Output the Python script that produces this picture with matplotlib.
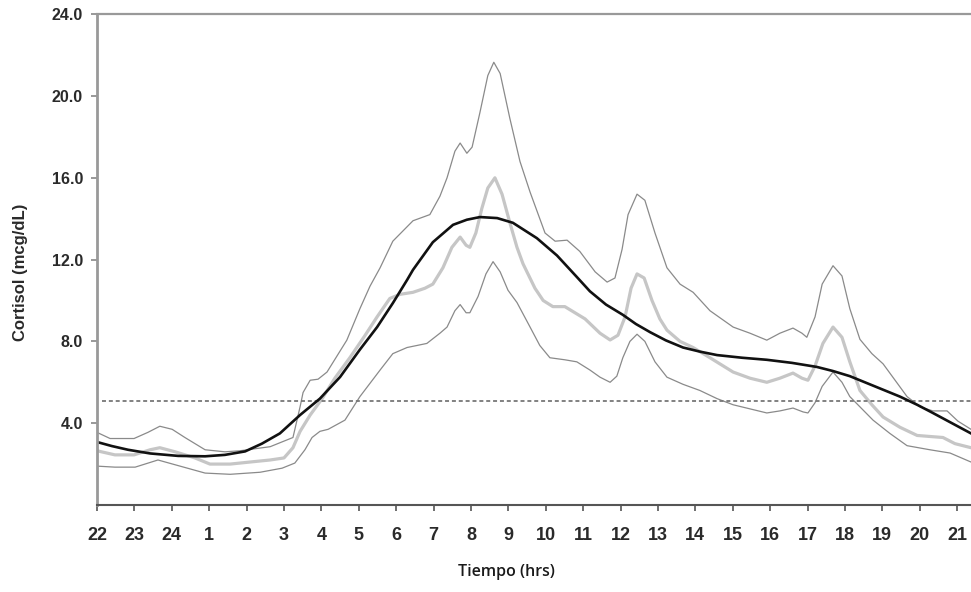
import matplotlib.pyplot as plt

# Horas desde las 22:00 (0 = 22 h, 23 = 21 h)
etiquetas_x = ["22", "23", "24", "1", "2", "3", "4", "5", "6", "7", "8", "9",
               "10", "11", "12", "13", "14", "15", "16", "17", "18", "19", "20", "21"]
ticks_y = [4.0, 8.0, 12.0, 16.0, 20.0, 24.0]
limite = 5.1

# Curva superior (percentil alto)
sup_t = [0, 0.35, 0.99, 1.36, 1.68, 2.01, 2.35, 2.89, 3.42, 3.82, 4.63, 5.24,
         5.43, 5.51, 5.70, 5.91, 6.15, 6.68, 7.03, 7.30, 7.57, 7.91, 8.45, 8.90,
         9.17, 9.36, 9.57, 9.71, 9.89, 10.03, 10.24, 10.45, 10.61, 10.78, 11.04,
         11.31, 11.58, 11.98, 12.25, 12.57, 12.91, 13.32, 13.64, 13.85, 14.04,
         14.20, 14.44, 14.65, 14.92, 15.24, 15.59, 15.94, 16.39, 17.01, 17.46,
         17.91, 18.26, 18.61, 18.85, 18.98, 19.20, 19.39, 19.68, 19.92, 20.13,
         20.40, 20.72, 21.02, 21.34, 21.66, 22.01, 22.35, 22.73, 23.02, 23.37]
sup_v = [3.55, 3.25, 3.25, 3.55, 3.85, 3.7, 3.3, 2.7, 2.6, 2.65, 2.85, 3.3,
         4.8, 5.5, 6.1, 6.15, 6.5, 8.06, 9.6, 10.7, 11.6, 12.9, 13.9, 14.2,
         15.1, 16.0, 17.3, 17.7, 17.2, 17.5, 19.2, 21.0, 21.65, 21.1, 18.9,
         16.8, 15.3, 13.3, 12.9, 12.95, 12.4, 11.4, 10.9, 11.1, 12.5,
         14.2, 15.2, 14.9, 13.3, 11.6, 10.8, 10.4, 9.5, 8.7, 8.4,
         8.06, 8.4, 8.65, 8.4, 8.2, 9.2, 10.8, 11.7, 11.2, 9.6,
         8.1, 7.4, 6.9, 6.1, 5.3, 4.8, 4.6, 4.6, 4.1, 3.7]

# Mediana
med_t = [0, 0.48, 0.99, 1.42, 1.68, 2.09, 2.62, 3.02, 3.56, 4.09, 4.63, 5.00,
         5.24, 5.43, 5.70, 6.02, 6.36, 6.76, 7.17, 7.49, 7.83, 8.10, 8.45, 8.77,
         8.98, 9.25, 9.49, 9.71, 9.87, 9.97, 10.13, 10.29, 10.45, 10.64, 10.83,
         11.04, 11.23, 11.39, 11.71, 11.93, 12.19, 12.51, 12.78, 13.05, 13.45,
         13.72, 13.93, 14.12, 14.28, 14.44, 14.63, 14.84, 15.05, 15.24, 15.59,
         15.94, 16.39, 17.01, 17.46, 17.91, 18.26, 18.61, 18.85, 19.01, 19.20,
         19.41, 19.68, 19.92, 20.13, 20.40, 20.72, 21.02, 21.47, 21.93, 22.27,
         22.62, 22.94, 23.37]
med_v = [2.65, 2.45, 2.45, 2.7, 2.8, 2.6, 2.3, 2.0, 2.0, 2.1, 2.2, 2.3,
         2.8, 3.6, 4.4, 5.2, 6.2, 7.2, 8.3, 9.2, 10.1, 10.3, 10.4, 10.6,
         10.8, 11.6, 12.6, 13.1, 12.7, 12.6, 13.3, 14.5, 15.5, 16.0, 15.2,
         13.8, 12.6, 11.8, 10.6, 10.0, 9.7, 9.7, 9.4, 9.1, 8.4,
         8.07, 8.3, 9.2, 10.6, 11.3, 11.1, 10.0, 9.1, 8.55, 8.0,
         7.7, 7.2, 6.5, 6.2, 6.0, 6.2, 6.45, 6.2, 6.1, 6.8,
         7.9, 8.7, 8.2, 7.0, 5.6, 4.9, 4.3, 3.8, 3.4, 3.35,
         3.3, 3.0, 2.8]

# Curva inferior (percentil bajo)
inf_t = [0, 0.48, 1.02, 1.63, 2.22, 2.89, 3.56, 4.36, 4.95, 5.29, 5.56, 5.75,
         5.96, 6.18, 6.63, 7.03, 7.57, 7.91, 8.29, 8.82, 9.17, 9.36, 9.57,
         9.71, 9.87, 9.97, 10.19, 10.40, 10.59, 10.78, 10.99, 11.23, 11.58, 11.84,
         12.11, 12.51, 12.83, 13.18, 13.45, 13.72, 13.90, 14.06, 14.25, 14.44,
         14.65, 14.92, 15.24, 15.67, 16.12, 16.58, 17.01, 17.46, 17.91, 18.26,
         18.61, 18.88, 19.01, 19.20, 19.39, 19.68, 19.92, 20.13, 20.40, 20.75,
         21.20, 21.66, 22.27, 22.81, 23.37]
inf_v = [1.9, 1.85, 1.85, 2.2, 1.9, 1.56, 1.5, 1.6, 1.8, 2.05, 2.7, 3.3,
         3.6, 3.7, 4.15, 5.3, 6.6, 7.4, 7.7, 7.9, 8.4, 8.7, 9.5,
         9.8, 9.4, 9.4, 10.2, 11.3, 11.9, 11.4, 10.5, 9.9, 8.7, 7.8,
         7.2, 7.1, 7.0, 6.6, 6.25, 6.0, 6.3, 7.2, 8.0, 8.35,
         8.0, 7.0, 6.25, 5.9, 5.6, 5.2, 4.9, 4.7, 4.5, 4.6,
         4.74, 4.55, 4.5, 5.0, 5.8, 6.5, 6.0, 5.3, 4.8, 4.15,
         3.5, 2.9, 2.7, 2.54, 2.1]

# Curva ajustada (negra)
aj_t = [0, 0.40, 0.83, 1.42, 2.17, 2.89, 3.42, 3.96, 4.41, 4.89, 5.43, 5.96,
        6.50, 7.03, 7.49, 7.91, 8.29, 8.45, 8.98, 9.52, 9.89, 10.24, 10.70,
        11.12, 11.76, 12.30, 12.83, 13.18, 13.61, 14.06, 14.41, 14.79, 15.21,
        15.67, 16.12, 16.58, 17.25, 17.91, 18.58, 19.25, 19.68, 20.13, 20.80,
        21.47, 21.93, 22.35, 22.86, 23.37]
aj_v = [3.08, 2.88, 2.7, 2.52, 2.4, 2.38, 2.45, 2.62, 3.0, 3.5, 4.4, 5.2,
        6.26, 7.6, 8.7, 9.87, 11.0, 11.5, 12.85, 13.7, 13.95, 14.08, 14.03,
        13.8, 13.05, 12.2, 11.15, 10.45, 9.8, 9.3, 8.85, 8.45, 8.05,
        7.7, 7.5, 7.33, 7.2, 7.1, 6.95, 6.75, 6.55, 6.3, 5.8,
        5.3, 4.9, 4.5, 4.0, 3.5]

fig = plt.figure(figsize=(9.71, 5.92), dpi=100)
ax = fig.add_axes([0.0999, 0.147, 0.9001, 0.829])

ax.plot(sup_t, sup_v, color="#8a8a8a", linewidth=0.9)
ax.plot(inf_t, inf_v, color="#8a8a8a", linewidth=0.9)
ax.plot(med_t, med_v, color="#c6c6c6", linewidth=2.3)
ax.axhline(limite, xmin=0.006, xmax=1, color="#777777", linewidth=1.3,
           linestyle=(0, (2.2, 1.6)))
ax.plot(aj_t, aj_v, color="#111111", linewidth=1.9)

ax.set_xlim(0, 23.37)
ax.set_ylim(0, 24)
ax.set_xticks(range(len(etiquetas_x)))
ax.set_xticklabels(etiquetas_x)
ax.set_yticks(ticks_y)
ax.set_yticklabels([f"{v:.1f}" for v in ticks_y])

for lab in ax.get_xticklabels():
    lab.set_fontfamily("Liberation Sans")
    lab.set_fontweight("bold")
    lab.set_fontsize(13)
    lab.set_color("#2a2a2a")
for lab in ax.get_yticklabels():
    lab.set_fontfamily("Liberation Sans")
    lab.set_fontweight("bold")
    lab.set_fontsize(11.5)
    lab.set_color("#2a2a2a")

ax.tick_params(axis="x", direction="out", length=4, width=1.2, color="#555555", pad=12)
ax.tick_params(axis="y", direction="out", length=4, width=1.2, color="#888888", pad=6)

ax.spines["right"].set_visible(False)
ax.spines["left"].set_color("#999999")
ax.spines["left"].set_linewidth(2)
ax.spines["top"].set_color("#999999")
ax.spines["top"].set_linewidth(1.6)
ax.spines["bottom"].set_color("#555555")
ax.spines["bottom"].set_linewidth(1.5)

fig.text(0.021, 0.54, "Cortisol (mcg/dL)", rotation=90, ha="center", va="center",
         fontfamily="Liberation Sans", fontweight="bold", fontsize=12, color="#2a2a2a")
fig.text(0.522, 0.02, "Tiempo (hrs)", ha="center", va="bottom",
         fontfamily="Open Sans", fontweight="semibold", fontsize=11.5, color="#1a1a1a")

fig.savefig("out.png", dpi=100)
